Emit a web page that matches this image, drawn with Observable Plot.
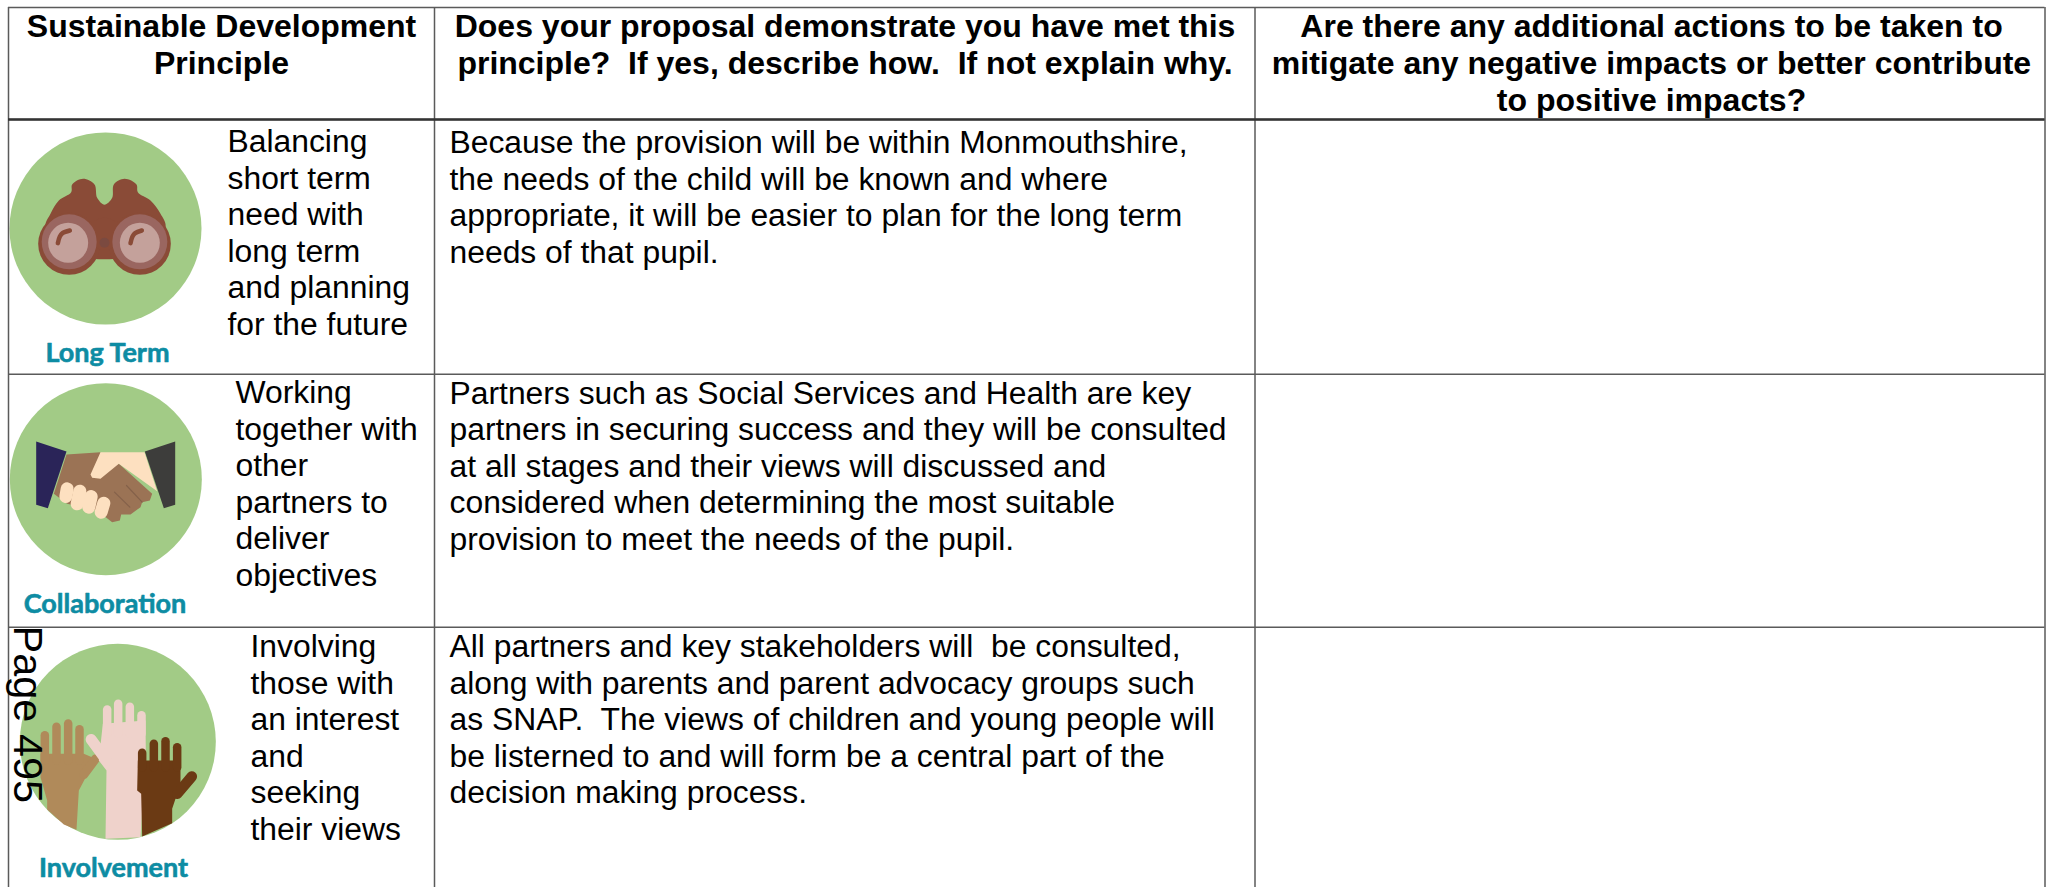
<!DOCTYPE html>
<html>
<head>
<meta charset="utf-8">
<script src="https://cdn.jsdelivr.net/npm/d3@7"></script>
<script src="https://cdn.jsdelivr.net/npm/@observablehq/plot@0.6"></script>
<style>html,body{margin:0;padding:0;background:#fff}svg{display:block}</style>
</head>
<body>
<div id="chart"></div>
<script>
// ---- table content ----
const headers = [
  "Sustainable Development\nPrinciple",
  "Does your proposal demonstrate you have met this\nprinciple?  If yes, describe how.  If not explain why.",
  "Are there any additional actions to be taken to\nmitigate any negative impacts or better contribute\nto positive impacts?"
];
const principles = ["Long Term", "Collaboration", "Involvement"];
const descriptions = [
  "Balancing\nshort term\nneed with\nlong term\nand planning\nfor the future",
  "Working\ntogether with\nother\npartners to\ndeliver\nobjectives",
  "Involving\nthose with\nan interest\nand\nseeking\ntheir views"
];
const answers = [
  "Because the provision will be within Monmouthshire,\nthe needs of the child will be known and where\nappropriate, it will be easier to plan for the long term\nneeds of that pupil.",
  "Partners such as Social Services and Health are key\npartners in securing success and they will be consulted\nat all stages and their views will discussed and\nconsidered when determining the most suitable\nprovision to meet the needs of the pupil.",
  "All partners and key stakeholders will  be consulted,\nalong with parents and parent advocacy groups such\nas SNAP.  The views of children and young people will\nbe listerned to and will form be a central part of the\ndecision making process."
];
const pageLabel = "Page 495";

// ---- grid of the table, in the units of the x and y scales ----
const columnEdges = [8, 434, 1254.5, 2044.5];
const rowEdges = [7, 119, 373.7, 626.8];
const bottom = 887;
const bodyFont = "'Liberation Sans', Arial, sans-serif";

const tile = (oy, pts) => pts.map(([x, y]) => ({x: x / 3, y: oy + y / 3}));
const poly = (oy, color, pts, curve = "linear-closed") =>
  Plot.line(tile(oy, pts), {x: "x", y: "y", fill: color, stroke: "none", curve});
const cap = (oy, color, w, pts, curve = "linear") =>
  Plot.line(tile(oy, pts), {x: "x", y: "y", stroke: color, strokeWidth: w, strokeLinecap: "round", strokeLinejoin: "round", curve});
const disc = (oy, color, r, x, y) =>
  Plot.dot([{x: x / 3, y: oy + y / 3}], {x: "x", y: "y", r, fill: color, stroke: "none"});

const green = "#a2cb86";

// binoculars
const binoculars = (() => {
  const brown = "#8a4b37", ring = "#9a6660", glass = "#c4a19b";
  return [
    disc(0, green, 96, 315, 684),
    poly(0, brown, [[150,640],[175,600],[212,575],[215,552],[248,535],[282,552],[290,592],[312,613],[335,592],[340,552],[372,535],[408,552],[412,575],[450,600],[480,640],[495,680],[420,760],[205,760],[135,680]], "catmull-rom-closed"),
    disc(0, brown, 31, 206, 730), disc(0, brown, 31, 418, 730),
    disc(0, brown, 16, 312, 700),
    disc(0, ring, 27.5, 206, 724), disc(0, ring, 27.5, 418, 724),
    disc(0, glass, 20, 203, 727), disc(0, glass, 20, 418, 727),
    cap(0, brown, 4.5, [[172,728],[178,708],[186,698],[208,690]], "catmull-rom"),
    cap(0, brown, 4.5, [[390,728],[396,708],[404,698],[424,690]], "catmull-rom"),
    disc(0, "#7b4a40", 5, 312, 727)
  ];
})();

// handshake
const handshake = (() => {
  const o = 370, skin = "#9b7355", cream = "#fde0c0";
  const fingers = [[[200,355],[196,378]], [[238,362],[230,400]], [[272,378],[265,410]], [[310,398],[302,425]]];
  return [
    disc(o, green, 96, 316, 326),
    poly(o, "#2a2458", [[107,213],[198,243],[142,413],[107,403]]),
    poly(o, "#3d3d3b", [[524,213],[433,243],[490,413],[524,403]]),
    poly(o, skin, [[198,252],[300,245],[300,300],[355,280],[455,370],[448,390],[425,395],[420,410],[390,432],[362,432],[358,450],[335,455],[290,420],[200,400],[160,370]]),
    poly(o, cream, [[300,245],[432,245],[470,362],[355,280],[300,325],[275,322],[270,312]]),
    ...fingers.map(f => cap(o, cream, 13, f)),
    cap(o, "#84614a", 1.2, [[342,365],[388,410]]),
    cap(o, "#84614a", 1.2, [[378,345],[425,395]])
  ];
})();

// raised hands
const raisedHands = (() => {
  const o = 620, tan = "#b08a5a", pale = "#efd2cb", dark = "#6b3a14";
  const hand = (color, w, tips, base) => tips.map(([x, y]) => cap(o, color, w, [[x, y + 12], [x, base]]));
  return [
    disc(o, green, 98, 352, 364),
    poly(o, tan, [[120,400],[250,400],[285,415],[235,510],[228,628],[190,612],[140,567],[140,540],[120,470]]),
    ...hand(tan, 8.5, [[133,332],[168,307],[203,297],[237,314]], 420),
    cap(o, tan, 9, [[285,415],[250,462]]),
    poly(o, pale, [[307,310],[435,300],[436,400],[420,650],[315,655],[318,450],[295,420]]),
    ...hand(pale, 8.5, [[320,255],[353,238],[388,247],[423,272]], 340),
    cap(o, pale, 11, [[272,357],[318,420]]),
    poly(o, dark, [[412,420],[540,420],[540,490],[515,565],[515,608],[425,648],[422,520],[410,510]]),
    ...hand(dark, 8.5, [[425,385],[460,358],[495,350],[530,368]], 440),
    cap(o, dark, 10.5, [[574,468],[530,520]])
  ];
})();

// rows built from the named lists
const headerX = [221, 844.5, 1651];
const headerRows = headers.map((text, i) => ({text, x: headerX[i]}));
const descX = [227, 235, 250];
const descY = [125.7, 377, 631];
const ansY = [127, 377.5, 631];
const labelX = [107, 104.5, 113];
const labelY = [361, 612, 876];
const descRows = descriptions.map((text, i) => ({text, x: descX[i], y: descY[i]}));
const ansRows = answers.map((text, i) => ({text, x: 449, y: ansY[i]}));
const labelRows = principles.map((text, i) => ({text, x: labelX[i], y: labelY[i]}));

const chart = Plot.plot({
  width: 2049, height: 887,
  margin: 0,
  x: {domain: [0, 2049], range: [0, 2049], axis: null},
  y: {domain: [0, 887], range: [0, 887], axis: null},
  style: {background: "#ffffff", fontFamily: bodyFont},
  marks: [
    ...binoculars, ...handshake, ...raisedHands,
    // grid lines
    Plot.ruleX(columnEdges, {x: d => d, y1: rowEdges[0], y2: bottom, stroke: "#5a5a5a", strokeWidth: 1.5}),
    Plot.ruleY(rowEdges, {y: d => d, x1: columnEdges[0], x2: columnEdges[3], stroke: "#5a5a5a", strokeWidth: 1.5}),
    Plot.ruleY([rowEdges[1]], {y: d => d, x1: columnEdges[0], x2: columnEdges[3], stroke: "#333333", strokeWidth: 2.5}),
    // header
    Plot.text(headerRows, {x: "x", y: 10, text: "text", textAnchor: "middle", lineAnchor: "top", lineHeight: 1.16, fontSize: 32, fontWeight: "bold", fill: "#000"}),
    // body
    Plot.text(descRows, {x: "x", y: "y", text: "text", textAnchor: "start", lineAnchor: "top", lineHeight: 1.146, fontSize: 31.85, fill: "#000"}),
    Plot.text(ansRows, {x: "x", y: "y", text: "text", textAnchor: "start", lineAnchor: "top", lineHeight: 1.146, fontSize: 31.85, fill: "#000"}),
    // icon captions
    Plot.text(labelRows, {x: "x", y: "y", text: "text", textAnchor: "middle", lineAnchor: "bottom", fontSize: 27, fontWeight: 700, fontFamily: "Lato", fill: "#0d8ca3", stroke: "#0d8ca3", strokeWidth: 0.6}),
    // page number over the last icon
    Plot.text([pageLabel], {x: 13, y: 625, text: d => d, rotate: 90, textAnchor: "start", lineAnchor: "bottom", fontSize: 41.5, fill: "#000"})
  ]
});
document.getElementById("chart").appendChild(chart);
</script>
</body>
</html>
